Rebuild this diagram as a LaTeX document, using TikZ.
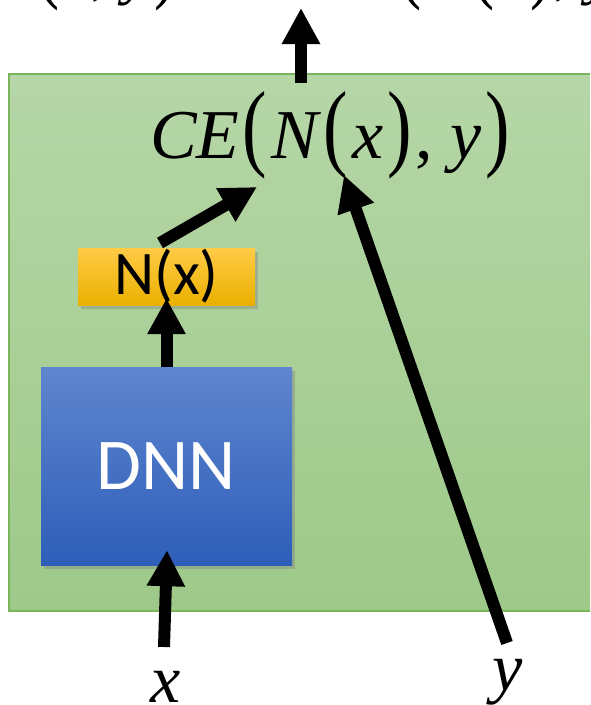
\documentclass[tikz,border=0pt]{standalone}
\usepackage{fontspec}
\usepackage{graphicx}
\setmainfont{Liberation Serif}
\newfontfamily\calibri{Carlito}
\usetikzlibrary{arrows.meta,shadows}

\definecolor{panelTop}{RGB}{182,214,167}
\definecolor{panelBot}{RGB}{158,201,137}
\definecolor{panelLine}{RGB}{122,181,92}
\definecolor{dnnTop}{RGB}{95,134,206}
\definecolor{dnnBot}{RGB}{46,94,185}
\definecolor{outTop}{RGB}{255,203,70}
\definecolor{outBot}{RGB}{234,176,0}

% tall brackets
\newcommand{\lp}{\hspace{0.04em}\scalebox{1.05}[1.38]{(}\hspace{0.06em}}
\newcommand{\rp}{\hspace{0.06em}\scalebox{1.05}[1.38]{)}\hspace{0.04em}}

\begin{document}
\begin{tikzpicture}[x=1pt, y=-1pt,
  box/.style={inner sep=0pt, drop shadow={opacity=0.4, shadow xshift=3pt, shadow yshift=-4pt}},
  fat/.style={line width=12pt, -{Triangle[length=36pt, width=36pt]}},
  formula/.style={inner sep=0pt, font=\fontsize{70}{84}\selectfont}]

\useasboundingbox (0,0) rectangle (590,705);
\clip (0,0) rectangle (590,705);

\node[draw=panelLine, line width=1.5pt, top color=panelTop, bottom color=panelBot, inner sep=0pt,
      minimum width=631pt, minimum height=537pt] (panel) at (324.5,342.5) {};

\node[box, top color=dnnTop, bottom color=dnnBot, minimum width=251pt, minimum height=198pt,
      text=white, font=\calibri\fontsize{73}{88}\selectfont] (dnn) at (166.5,466) {DNN};
\node[box, top color=outTop, bottom color=outBot, minimum width=177pt, minimum height=57pt,
      font=\calibri\fontsize{62}{74}\selectfont] (nx) at (166.5,276.5) {N(x)};

\node[formula, anchor=base west] (ce) at (150,158)
  {\textit{CE}\lp\textit{N}\lp\textit{x}\rp, \textit{y}\rp};
\node[formula, anchor=base west, font=\fontsize{63}{76}\selectfont] (loss) at (0,-8)
  {\textit{L}\lp\textit{x}, \textit{y}\rp\ =\hspace{70pt} \textit{CE}\lp\textit{N}\lp\textit{x}\rp, \textit{y}\rp};

\node[formula, anchor=base, font=\fontsize{68}{82}\selectfont] (xin) at (166,702) {\textit{x}};
\node[formula, anchor=base, font=\fontsize{68}{82}\selectfont] (yin) at (508,690) {\textit{y}};

\coordinate (xtail) at (164,647);
\coordinate (ytail) at (507,643);
\coordinate (ytip) at (344,175);
\coordinate (nxtail) at (160,243);
\coordinate (cetip) at (257,187);
\coordinate (losstail) at (301,83);
\coordinate (losstip) at (301,8);

\draw[fat, shorten >=-15pt] (xtail) to (dnn.south);
\draw[fat, shorten >=-7pt] (dnn.north) to (nx.south);
\draw[fat] (nxtail) to (cetip);
\draw[fat] (ytail) to (ytip);
\draw[fat] (losstail) to (losstip);

\end{tikzpicture}
\end{document}
